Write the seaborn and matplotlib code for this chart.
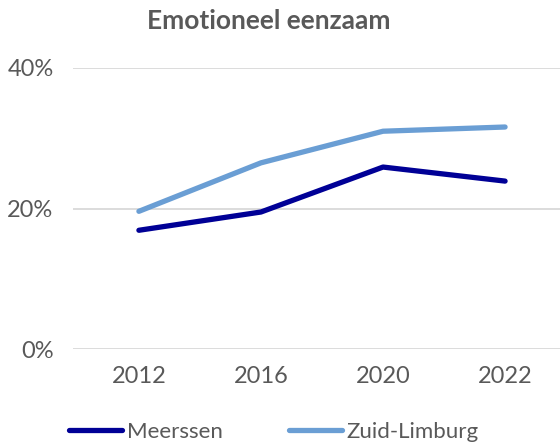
import pandas as pd
import matplotlib.pyplot as plt
import seaborn as sns

# data
years = ['2012', '2016', '2020', '2022']
meerssen = [0.169, 0.195, 0.259, 0.239]
zuid_limburg = [0.196, 0.265, 0.310, 0.316]

df = pd.DataFrame({
    'jaar': years * 2,
    'waarde': meerssen + zuid_limburg,
    'regio': ['Meerssen'] * 4 + ['Zuid-Limburg'] * 4,
})

sns.set_style('white')
plt.rcParams['font.family'] = ['Lato', 'DejaVu Sans']
grey = '#595959'

fig = plt.figure(figsize=(5.6, 4.43), dpi=100)
ax = fig.add_axes([73 / 560, 94 / 443, 487 / 560, 281 / 443])

sns.lineplot(data=df, x='jaar', y='waarde', hue='regio',
             palette={'Meerssen': '#000096', 'Zuid-Limburg': '#6A9ED4'},
             linewidth=3.8, ax=ax, legend=False, sort=False)
for line in ax.lines:
    line.set_solid_capstyle('round')
    line.set_solid_joinstyle('round')

ax.set_ylim(0, 0.4)
ax.set_yticks([0, 0.2, 0.4])
ax.set_yticklabels(['0%', '20%', '40%'])
ax.set_xlim(-0.54, 3.45)
ax.set_xlabel('')
ax.set_ylabel('')
ax.yaxis.grid(True, color='#d9d9d9', linewidth=1.3)
ax.set_axisbelow(True)
sns.despine(ax=ax, left=True, bottom=True, top=True, right=True)
ax.tick_params(axis='both', length=0, labelsize=17, colors=grey)
ax.tick_params(axis='y', pad=14)
ax.tick_params(axis='x', pad=12)

fig.suptitle('Emotioneel eenzaam', x=0.48, y=0.98, fontsize=19,
             fontweight='bold', color=grey)

handles = [plt.Line2D([], [], color='#000096', linewidth=3.8, solid_capstyle='round'),
           plt.Line2D([], [], color='#6A9ED4', linewidth=3.8, solid_capstyle='round')]
leg = fig.legend(handles, ['Meerssen', 'Zuid-Limburg'], loc='center',
                 bbox_to_anchor=(0.489, 0.025), ncol=2, frameon=False,
                 fontsize=16, handlelength=2.4, handletextpad=0.2,
                 columnspacing=3.0)
for t in leg.get_texts():
    t.set_color(grey)

fig.savefig('out.png', dpi=100)
